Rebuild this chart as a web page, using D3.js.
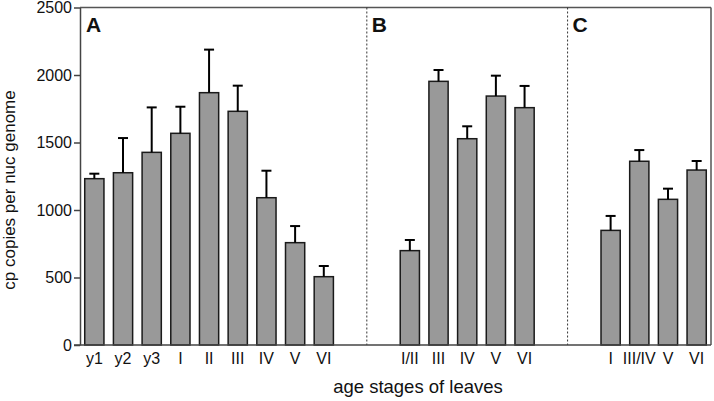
<!DOCTYPE html>
<html>
<head>
<meta charset="utf-8">
<script src="https://cdn.jsdelivr.net/npm/d3@7"></script>
<style>
  html, body { margin: 0; padding: 0; background: #fff; }
  svg { display: block; font-family: "Liberation Sans", Arial, sans-serif; }
</style>
</head>
<body>
<svg id="chart" width="714" height="401"></svg>
<script>
const panelLabels = ["A", "B", "C"];
const catsA = ["y1", "y2", "y3", "I", "II", "III", "IV", "V", "VI"];
const valsA = [1232, 1276, 1427, 1568, 1869, 1731, 1091, 758, 506];
const errA  = [37, 257, 333, 197, 319, 190, 200, 123, 79];
const catsB = ["I/II", "III", "IV", "V", "VI"];
const valsB = [699, 1953, 1528, 1844, 1758];
const errB  = [79, 84, 92, 151, 161];
const catsC = ["I", "III/IV", "V", "VI"];
const valsC = [849, 1361, 1079, 1296];
const errC  = [107, 83, 79, 67];
const yTicks = [0, 500, 1000, 1500, 2000, 2500];
const yTitle = "cp copies per nuc genome";
const xTitle = "age stages of leaves";

(function () {
const panels = [
  { label: panelLabels[0], cats: catsA, vals: valsA, errs: errA },
  { label: panelLabels[1], cats: catsB, vals: valsB, errs: errB },
  { label: panelLabels[2], cats: catsC, vals: valsC, errs: errC }
];

const domain = [];
const bars = [];
const separators = [];
panels.forEach((p, pi) => {
  if (pi > 0) {
    domain.push("gap" + pi + "a");
    domain.push("gap" + pi + "b");
    separators.push({ left: "gap" + pi + "a", right: "gap" + pi + "b" });
  }
  p.cats.forEach((c, i) => {
    const key = p.label + ":" + c;
    domain.push(key);
    bars.push({ key, cat: c, value: p.vals[i], err: p.errs[i] });
  });
});

const svg = d3.select("#chart");
const pL = 80, pR = 711, pT = 7.5, pB = 345;
const fontFam = "Liberation Sans, Arial, sans-serif";

const x = d3.scaleBand().domain(domain).range([pL, pR])
  .paddingInner(0.33).paddingOuter(0.165);
const y = d3.scaleLinear().domain([0, 2500]).range([pB, pT]);

const axisColor = "#444";

svg.append("line").attr("x1", pL).attr("x2", pR).attr("y1", pT).attr("y2", pT)
  .attr("stroke", "#555").attr("stroke-width", 1.5);
svg.append("line").attr("x1", pR).attr("x2", pR).attr("y1", pT).attr("y2", pB)
  .attr("stroke", "#555").attr("stroke-width", 1.5);

const sepX = [];
separators.forEach(s => {
  const sx = (x(s.left) + x(s.right)) / 2 + x.bandwidth() / 2;
  sepX.push(sx);
  svg.append("line").attr("x1", sx).attr("x2", sx).attr("y1", pT).attr("y2", pB)
    .attr("stroke", "#333").attr("stroke-width", 1).attr("stroke-dasharray", "2,2");
});

const bw = x.bandwidth();
svg.append("g").selectAll("rect").data(bars).join("rect")
  .attr("x", d => x(d.key))
  .attr("y", d => y(d.value))
  .attr("width", bw)
  .attr("height", d => y(0) - y(d.value))
  .attr("fill", "#999999")
  .attr("stroke", "#1a1a1a")
  .attr("stroke-width", 1.5);

const eb = svg.append("g").attr("stroke", "#000").attr("stroke-width", 2);
bars.forEach(d => {
  const cx = x(d.key) + bw / 2;
  eb.append("line").attr("x1", cx).attr("x2", cx)
    .attr("y1", y(d.value)).attr("y2", y(d.value + d.err));
  eb.append("line").attr("x1", cx - 5).attr("x2", cx + 5)
    .attr("y1", y(d.value + d.err)).attr("y2", y(d.value + d.err));
});

const yAxis = svg.append("g").attr("transform", `translate(${pL},0)`)
  .call(d3.axisLeft(y).tickValues(yTicks).tickFormat(d3.format("d"))
    .tickSize(6).tickPadding(2).tickSizeOuter(0));
yAxis.attr("font-family", fontFam);
yAxis.select(".domain").attr("stroke", axisColor).attr("stroke-width", 1.5);
yAxis.selectAll(".tick line").attr("stroke", axisColor).attr("stroke-width", 1.5);
yAxis.selectAll(".tick text").attr("font-size", 16).attr("fill", "#111");

const xAxis = svg.append("g").attr("transform", `translate(0,${pB})`)
  .call(d3.axisBottom(x).tickSize(0).tickPadding(8).tickSizeOuter(0)
    .tickFormat(k => k.startsWith("gap") ? "" : k.split(":")[1]));
xAxis.attr("font-family", fontFam);
xAxis.select(".domain").attr("stroke", axisColor).attr("stroke-width", 1.5)
  .attr("d", `M${pL - 6},0H${pR}`);
xAxis.selectAll(".tick text").attr("font-size", 16).attr("fill", "#111");

const labelX = [pL + 6].concat(sepX.map(s => s + 5));
panels.forEach((p, pi) => {
  svg.append("text")
    .attr("x", labelX[pi])
    .attr("y", 32)
    .attr("font-size", 21).attr("font-weight", "bold").attr("fill", "#111")
    .text(p.label);
});

svg.append("text").attr("x", 418).attr("y", 393).attr("text-anchor", "middle")
  .attr("font-size", 18.5).attr("fill", "#111").text(xTitle);
svg.append("text").attr("transform", "translate(15,190) rotate(-90)")
  .attr("text-anchor", "middle").attr("font-size", 17).attr("fill", "#111").text(yTitle);
})();
</script>
</body>
</html>
